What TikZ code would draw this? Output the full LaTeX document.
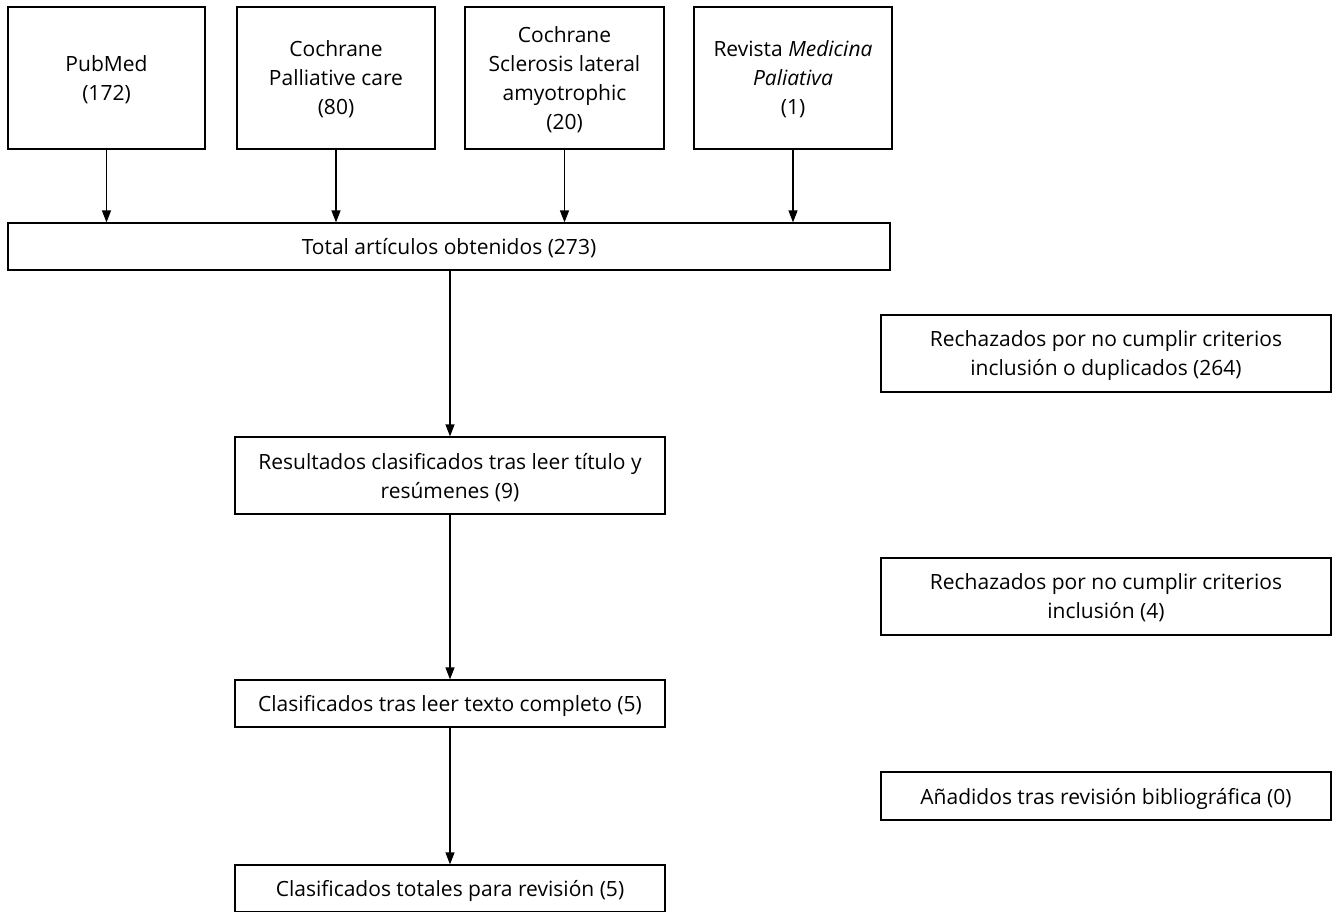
\documentclass[tikz,border=0pt]{standalone}
\usepackage{fontspec}
\setmainfont{Open Sans}
\usetikzlibrary{arrows.meta}
\begin{document}
\begin{tikzpicture}[x=1pt,y=-1pt,
  box/.style={draw, line width=1.2pt, align=center, inner sep=0pt, font=\fontsize{21}{29}\selectfont, text depth=0pt},
  arr/.style={line width=1.2pt, -{Triangle[length=12pt,width=9pt]}}]
\useasboundingbox (0,0) rectangle (1333,911);
\node[box, minimum width=197, minimum height=142] (pub) at (106.5,78) {PubMed\\(172)};
\node[box, minimum width=198, minimum height=142] (coc1) at (336,78) {Cochrane\\Palliative care\\(80)};
\node[box, minimum width=199, minimum height=142] (coc2) at (564.5,78) {Cochrane\\Sclerosis lateral\\amyotrophic\\(20)};
\node[box, minimum width=198, minimum height=142] (rev) at (793,78) {Revista \textit{Medicina}\\\textit{Paliativa}\\(1)};
\node[box, minimum width=882, minimum height=47] (total) at (449,246.5) {Total artículos obtenidos (273)};
\node[box, minimum width=430, minimum height=77] (res) at (450,475.5) {Resultados clasificados tras leer título y\\resúmenes (9)};
\node[box, minimum width=430, minimum height=47] (cla) at (450,703.5) {Clasificados tras leer texto completo (5)};
\node[box, minimum width=430, minimum height=47] (fin) at (450,888.5) {Clasificados totales para revisión (5)};
\node[box, minimum width=450, minimum height=77] (rej1) at (1106,353.5) {Rechazados por no cumplir criterios\\inclusión o duplicados (264)};
\node[box, minimum width=450, minimum height=77] (rej2) at (1106,596.5) {Rechazados por no cumplir criterios\\inclusión (4)};
\node[box, minimum width=450, minimum height=48] (add) at (1106,796) {Añadidos tras revisión bibliográfica (0)};
\foreach \s in {pub,coc1,coc2,rev}
  \draw[arr] (\s.south) -- (\s.south |- total.north);
\draw[arr] (total.south -| res.north) -- (res.north);
\draw[arr] (res.south) -- (cla.north);
\draw[arr] (cla.south) -- (fin.north);
\end{tikzpicture}
\end{document}
